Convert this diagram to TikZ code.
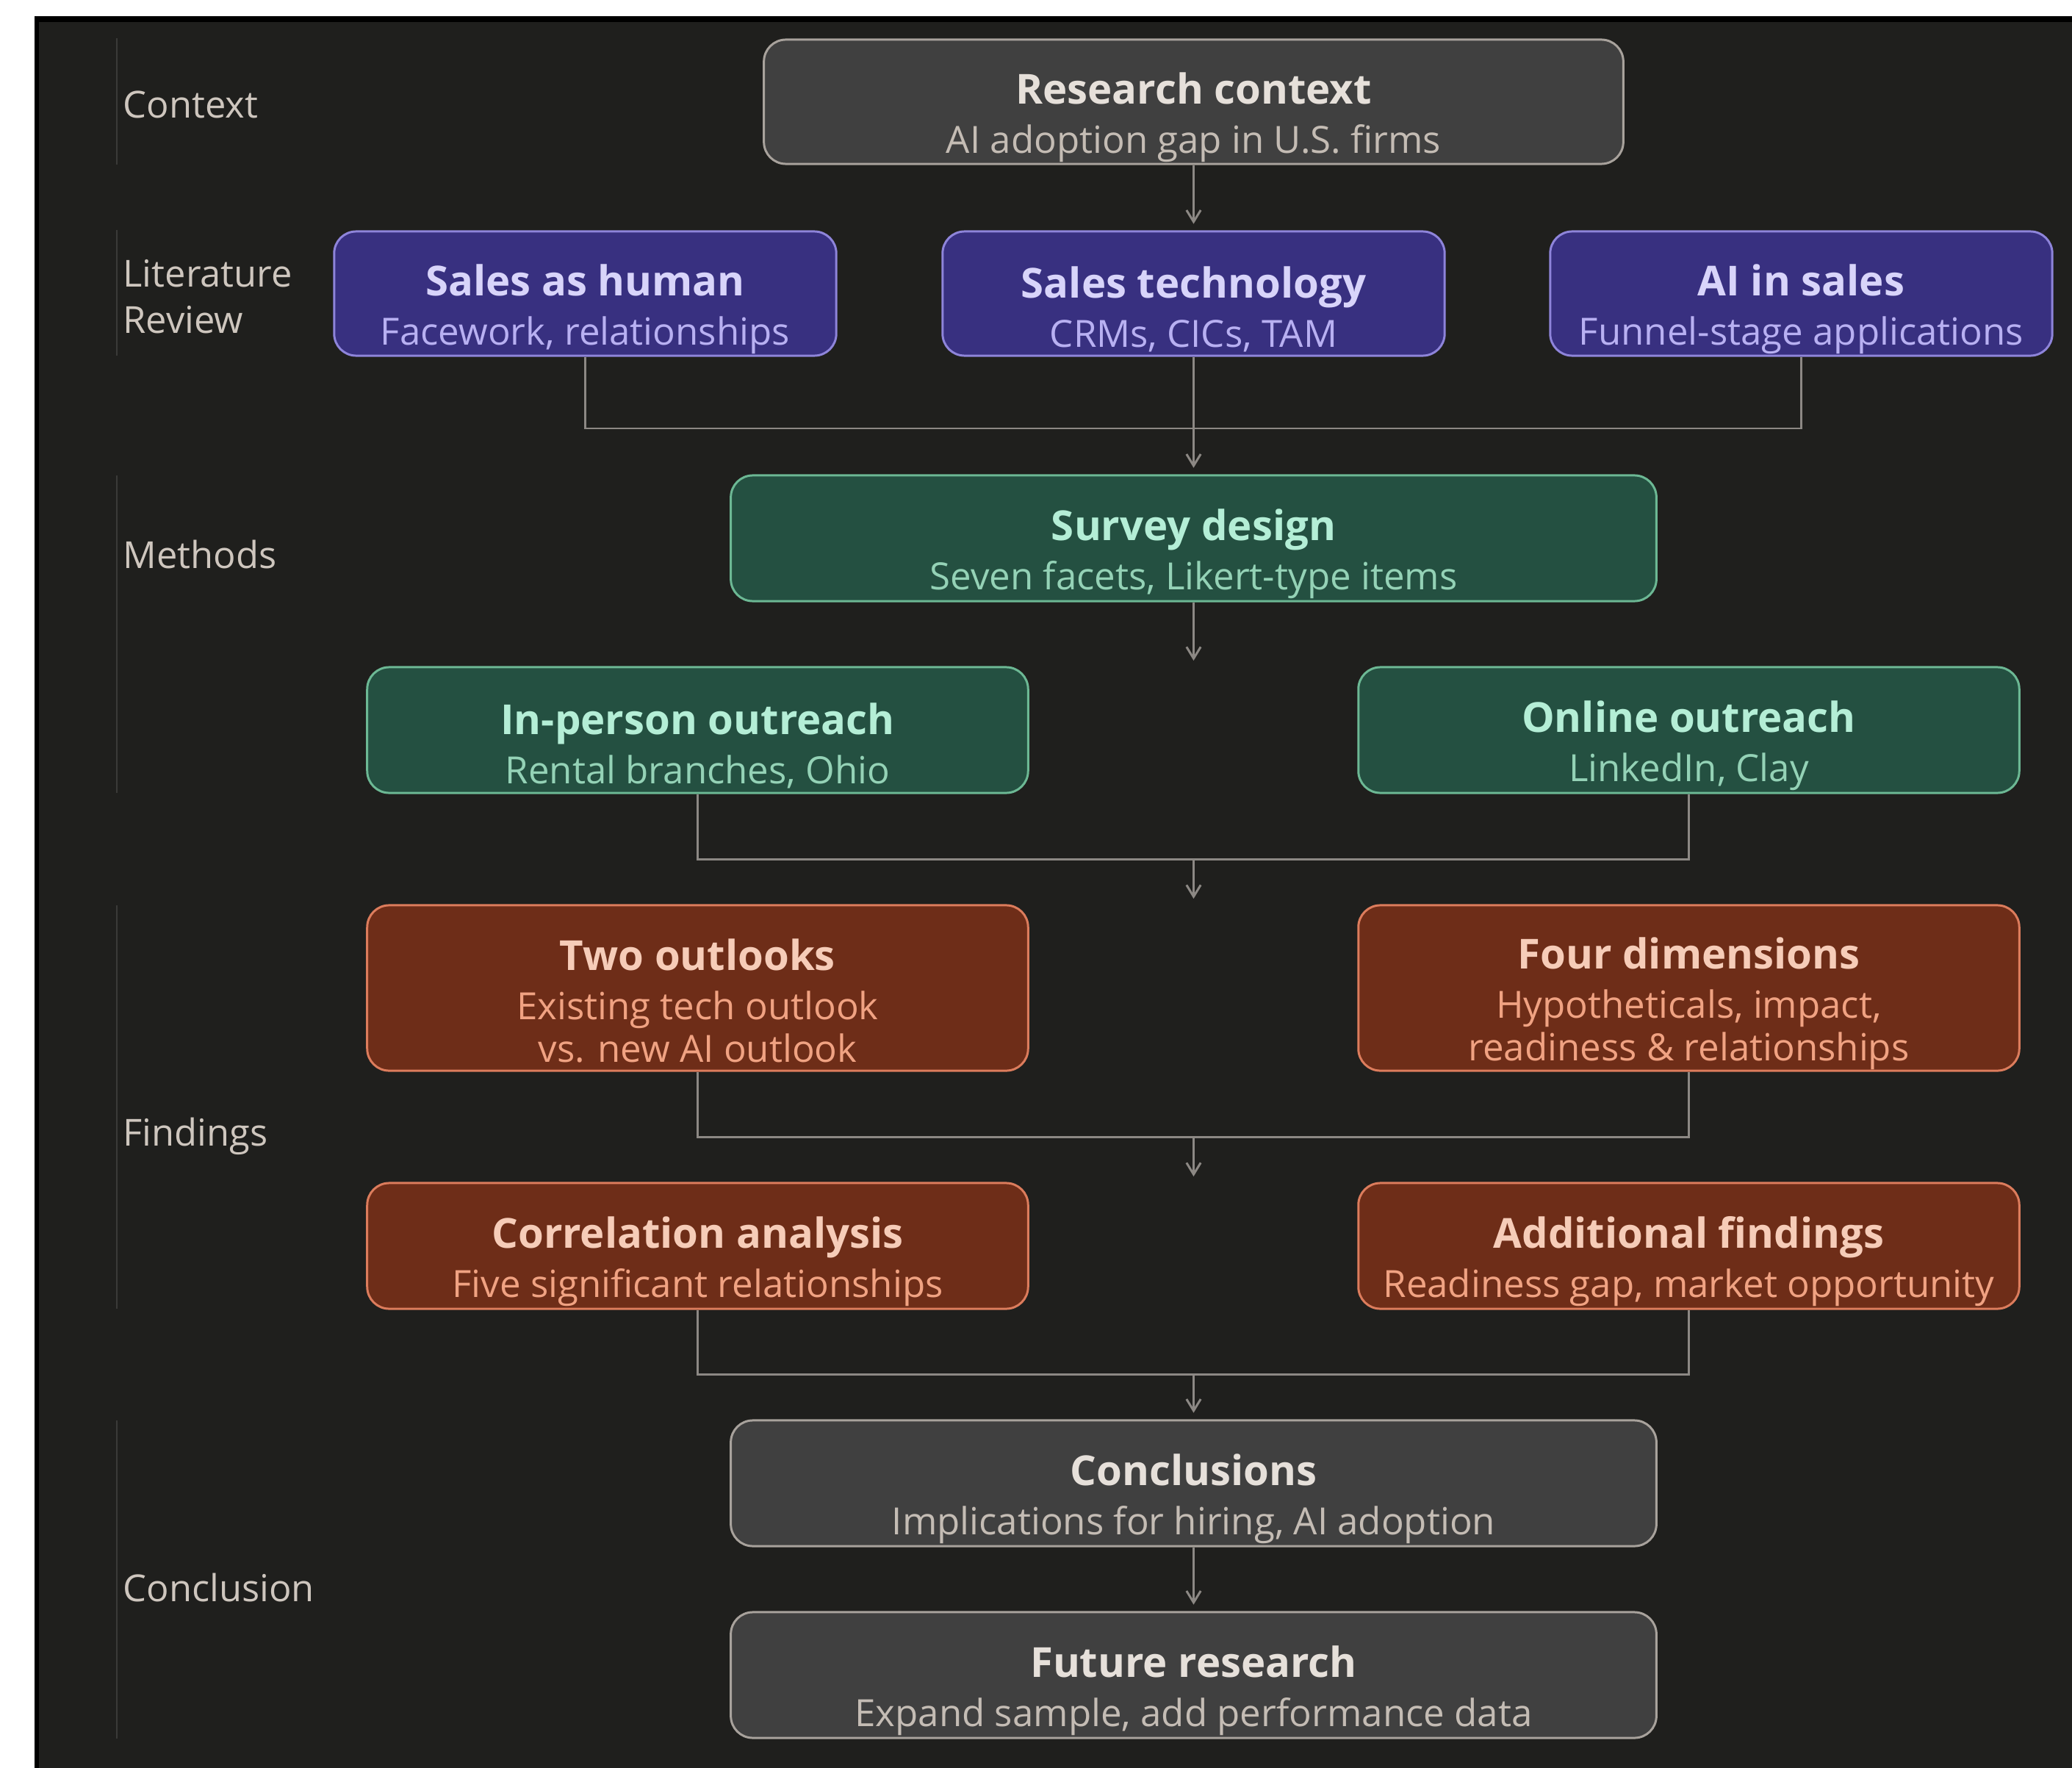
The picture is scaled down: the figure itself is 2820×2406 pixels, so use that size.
\documentclass[tikz,border=0pt]{standalone}
\usepackage{fontspec}
\setmainfont{Open Sans}
\usetikzlibrary{arrows.meta}
\definecolor{bgdark}{HTML}{1F1F1D}
\definecolor{laneline}{HTML}{3A3A38}
\definecolor{lanetext}{HTML}{CEC6BE}
\definecolor{connline}{HTML}{8C8884}
\definecolor{grayfill}{HTML}{404040}
\definecolor{grayline}{HTML}{A8A29C}
\definecolor{graytitle}{HTML}{E6E0DA}
\definecolor{graysub}{HTML}{C4BCB4}
\definecolor{purplefill}{HTML}{383080}
\definecolor{purpleline}{HTML}{8E84DA}
\definecolor{purpletitle}{HTML}{D8D4FA}
\definecolor{purplesub}{HTML}{B8B0F2}
\definecolor{greenfill}{HTML}{245041}
\definecolor{greenline}{HTML}{6CB894}
\definecolor{greentitle}{HTML}{B4EED6}
\definecolor{greensub}{HTML}{94D2B6}
\definecolor{brownfill}{HTML}{6E2D18}
\definecolor{brownline}{HTML}{DC7C5C}
\definecolor{browntitle}{HTML}{F6CCB8}
\definecolor{brownsub}{HTML}{F0A282}
\newcommand{\sub}[1]{{\mdseries\fontsize{14.5}{16.5}\selectfont\color{subcol}#1}}
\begin{document}
\begin{tikzpicture}[x=0.01cm,y=-0.01cm,
  box/.style={draw, rounded corners=8.5pt, line width=0.85pt, inner sep=0pt},
  graybox/.style={box, fill=grayfill, draw=grayline},
  purplebox/.style={box, fill=purplefill, draw=purpleline},
  greenbox/.style={box, fill=greenfill, draw=greenline},
  brownbox/.style={box, fill=brownfill, draw=brownline},
  boxtext/.style={align=center, inner sep=0pt, yshift=-6pt,
    font=\fontsize{16}{19}\selectfont\bfseries},
  graytext/.style={boxtext, text=graytitle, execute at begin node=\colorlet{subcol}{graysub}},
  purpletext/.style={boxtext, text=purpletitle, execute at begin node=\colorlet{subcol}{purplesub}},
  greentext/.style={boxtext, text=greentitle, execute at begin node=\colorlet{subcol}{greensub}},
  browntext/.style={boxtext, text=browntitle, execute at begin node=\colorlet{subcol}{brownsub}},
  litw/.style={minimum width=6.83cm, minimum height=1.69cm},
  midw/.style={minimum width=8.99cm, minimum height=1.71cm},
  widew/.style={minimum width=12.59cm, minimum height=1.71cm},
  lane/.style={anchor=west, inner sep=0pt, text=lanetext, align=left,
    font=\fontsize{14.4}{18}\selectfont},
  laneedge/.style={draw=laneline, line width=0.6pt},
  conn/.style={draw=connline, line width=0.85pt},
  arr/.style={conn, -{Straight Barb[length=4.5pt,width=5.5pt]}, shorten >=2.5pt}]

\useasboundingbox (0,0) rectangle (2820,2406);
\fill [white] (0,0) rectangle (2820,2406);
\fill [black] (47,22) rectangle (2820,2406);
\fill [bgdark] (53,30) rectangle (2820,2406);

\draw [laneedge] (159,52) -- (159,224);
\draw [laneedge] (159,313) -- (159,484);
\draw [laneedge] (159,647) -- (159,1079);
\draw [laneedge] (159,1232) -- (159,1781);
\draw [laneedge] (159,1933) -- (159,2366);

\node [lane] (l-ctx) at (167,142) {Context};
\node [lane] (l-lit) at (167,404) {Literature\\Review};
\node [lane] (l-meth) at (167,755) {Methods};
\node [lane] (l-find) at (167,1546) {Findings};
\node [lane] (l-conc) at (167,2160) {Conclusion};

\node [graybox, minimum width=11.69cm, minimum height=1.69cm] (ctx) at (1624.5,138.5) {};
\node [graytext] (ctx-t) at (ctx) {Research context\\\sub{AI adoption gap in U.S. firms}};

\node [purplebox, litw] (hum) at (796.5,399.5) {};
\node [purpletext] (hum-t) at (hum) {Sales as human\\\sub{Facework, relationships}};
\node [purplebox, litw] (tech) at (1624.5,399.5) {};
\node [purpletext] (tech-t) at (tech) {Sales technology\\\sub{CRMs, CICs, TAM}};
\node [purplebox, litw] (ais) at (2451.5,399.5) {};
\node [purpletext] (ais-t) at (ais) {AI in sales\\\sub{Funnel-stage applications}};

\node [greenbox, widew] (survey) at (1624.5,732.5) {};
\node [greentext] (survey-t) at (survey) {Survey design\\\sub{Seven facets, Likert-type items}};
\node [greenbox, midw] (inper) at (949.5,993.5) {};
\node [greentext] (inper-t) at (inper) {In-person outreach\\\sub{Rental branches, Ohio}};
\node [greenbox, midw] (online) at (2298.5,993.5) {};
\node [greentext] (online-t) at (online) {Online outreach\\\sub{LinkedIn, Clay}};

\node [brownbox, midw, minimum height=2.25cm] (two) at (949.5,1344.5) {};
\node [browntext, yshift=1pt] (two-t) at (two)
  {Two outlooks\\\sub{Existing tech outlook}\\[-2.5pt]\sub{vs. new AI outlook}};
\node [brownbox, midw, minimum height=2.25cm] (four) at (2298.5,1344.5) {};
\node [browntext] (four-t) at (four)
  {Four dimensions\\\sub{Hypotheticals, impact,}\\[-2.5pt]\sub{readiness \& relationships}};
\node [brownbox, midw] (corr) at (949.5,1695.5) {};
\node [browntext] (corr-t) at (corr) {Correlation analysis\\\sub{Five significant relationships}};
\node [brownbox, midw] (addf) at (2298.5,1695.5) {};
\node [browntext] (addf-t) at (addf) {Additional findings\\\sub{Readiness gap, market opportunity}};

\node [graybox, widew] (concl) at (1624.5,2018.5) {};
\node [graytext] (concl-t) at (concl) {Conclusions\\\sub{Implications for hiring, AI adoption}};
\node [graybox, widew] (fut) at (1624.5,2279.5) {};
\node [graytext] (fut-t) at (fut) {Future research\\\sub{Expand sample, add performance data}};

\coordinate (j1) at (1624.5,583);
\coordinate (s1) at (1624.5,899);
\coordinate (j2) at (1624.5,1169);
\coordinate (s2) at (1624.5,1223);
\coordinate (j3) at (1624.5,1547);
\coordinate (s3) at (1624.5,1601);
\coordinate (j4) at (1624.5,1870);

\draw [arr] (ctx.south) -- (tech.north);
\draw [conn] (hum.south) |- (j1) -| (ais.south);
\draw [conn] (tech.south) -- (j1);
\draw [arr] (j1) -- (survey.north);
\draw [arr, shorten >=0pt] (survey.south) -- (s1);
\draw [conn] (inper.south) |- (j2) -| (online.south);
\draw [arr, shorten >=0pt] (j2) -- (s2);
\draw [conn] (two.south) |- (j3) -| (four.south);
\draw [arr, shorten >=0pt] (j3) -- (s3);
\draw [conn] (corr.south) |- (j4) -| (addf.south);
\draw [arr] (j4) -- (concl.north);
\draw [arr] (concl.south) -- (fut.north);
\end{tikzpicture}
\end{document}
